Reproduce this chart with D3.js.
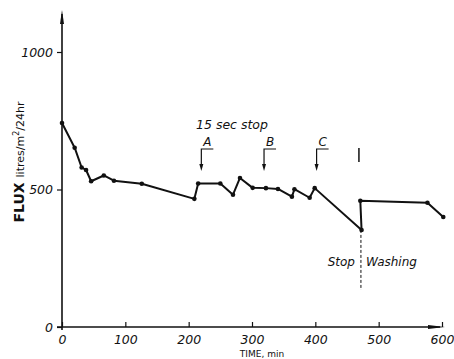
<!DOCTYPE html>
<html>
<head>
<meta charset="utf-8">
<script src="https://cdn.jsdelivr.net/npm/d3@7"></script>
<style>
  html, body { margin: 0; padding: 0; background: #fff; }
  svg { display: block; }
  text { font-family: "DejaVu Sans", sans-serif; fill: #111; }
</style>
</head>
<body>
<svg id="chart" width="454" height="359"></svg>
<script>
// Flux measurements over time (minutes, litres/m2/24hr)
const timeMin = [0, 20, 31, 38, 46, 66, 82, 126, 209, 215, 250, 270, 281, 301, 322, 341, 363, 367, 391, 399, 473, 471, 577, 602];
const fluxVal = [742, 652, 580, 571, 530, 551, 532, 521, 466, 522, 522, 481, 542, 506, 505, 502, 474, 501, 470, 505, 353, 459, 452, 400];

const xTicks = [0, 100, 200, 300, 400, 500, 600];
const yTicks = [0, 500, 1000];

// 15-second stop markers
const stopLabels = ["A", "B", "C"];
const stopTimes = [220, 319, 402];
const washTime = 472;

const svg = d3.select("#chart");
const x = d3.scaleLinear().domain([0, 600]).range([62, 442]);
const y = d3.scaleLinear().domain([0, 1000]).range([327, 52]);

const ink = "#111";

// Axes
const xAxis = d3.axisBottom(x).tickValues(xTicks).tickSize(-5).tickPadding(9).tickFormat(d3.format("d"));
const gx = svg.append("g").attr("transform", `translate(0,${y(0)})`).call(xAxis);
gx.select(".domain").remove();
gx.selectAll("line").attr("stroke", ink).attr("stroke-width", 1.2);
gx.selectAll("text").attr("font-size", 12.5).attr("font-style", "italic").attr("fill", ink).attr("dy", "0.6em");

const yAxis = d3.axisLeft(y).tickValues(yTicks).tickSize(5).tickPadding(4).tickFormat(d3.format("d"));
const gy = svg.append("g").attr("transform", `translate(${x(0)},0)`).call(yAxis);
gy.select(".domain").remove();
gy.selectAll("line").attr("stroke", ink).attr("stroke-width", 1.2);
gy.selectAll("text").attr("font-size", 12.5).attr("font-style", "italic").attr("fill", ink);

// Axis lines with arrowheads
svg.append("line").attr("x1", x(0)).attr("x2", x(0)).attr("y1", y(0) + 3).attr("y2", 14)
  .attr("stroke", ink).attr("stroke-width", 1.6);
svg.append("path").attr("d", `M${x(0) - 2},${24} L${x(0)},${10} L${x(0) + 2},${24} Z`).attr("fill", ink);
svg.append("line").attr("x1", x(0) - 5).attr("x2", 440).attr("y1", y(0)).attr("y2", y(0))
  .attr("stroke", ink).attr("stroke-width", 1.6);
svg.append("path").attr("d", `M${428},${y(0) - 2} L${445},${y(0)} L${428},${y(0) + 2} Z`).attr("fill", ink);

// Axis titles
svg.append("text").attr("x", 262).attr("y", 357).attr("text-anchor", "middle")
  .attr("font-size", 9).text("TIME, min");
const yt = svg.append("text").attr("transform", "translate(24,162) rotate(-90)").attr("text-anchor", "middle");
yt.append("tspan").attr("font-size", 14).attr("font-weight", "bold").text("FLUX ");
yt.append("tspan").attr("font-size", 11).text(" litres");
yt.append("tspan").attr("font-size", 11).text("/m");
yt.append("tspan").attr("font-size", 8).attr("dy", -5).text("2");
yt.append("tspan").attr("font-size", 11).attr("dy", 5).text("/24hr");

// Data line and points
const pts = timeMin.map((t, i) => [t, fluxVal[i]]);
svg.append("path").datum(pts)
  .attr("d", d3.line().x(d => x(d[0])).y(d => y(d[1])))
  .attr("fill", "none").attr("stroke", ink).attr("stroke-width", 2).attr("stroke-linejoin", "round");
svg.selectAll("circle.pt").data(pts).join("circle").attr("class", "pt")
  .attr("cx", d => x(d[0])).attr("cy", d => y(d[1])).attr("r", 2.3).attr("fill", ink);

// 15 sec stop annotations
svg.append("text").attr("x", 232).attr("y", 129).attr("text-anchor", "middle")
  .attr("font-size", 12.5).attr("font-style", "italic").text("15 sec  stop");
stopTimes.forEach((t, i) => {
  const px = x(t);
  const g = svg.append("g");
  g.append("text").attr("x", px + 6).attr("y", 146).attr("text-anchor", "middle")
    .attr("font-size", 12).attr("font-style", "italic").text(stopLabels[i]);
  g.append("path").attr("d", `M${px + 12},149 L${px},149 L${px},165`)
    .attr("fill", "none").attr("stroke", ink).attr("stroke-width", 1.2);
  g.append("path").attr("d", `M${px - 2},164 L${px},171 L${px + 2},164 Z`).attr("fill", ink);
});

// Stop / washing separator
const wx = x(washTime);
svg.append("line").attr("x1", wx - 2).attr("x2", wx - 2).attr("y1", 148).attr("y2", 162)
  .attr("stroke", ink).attr("stroke-width", 1.5);
svg.append("line").attr("x1", wx).attr("x2", wx).attr("y1", y(353)).attr("y2", 290)
  .attr("stroke", ink).attr("stroke-width", 1).attr("stroke-dasharray", "3,2");
svg.append("text").attr("x", wx - 6).attr("y", 266).attr("text-anchor", "end")
  .attr("font-size", 12).attr("font-style", "italic").text("Stop");
svg.append("text").attr("x", wx + 5).attr("y", 266)
  .attr("font-size", 12).attr("font-style", "italic").text("Washing");
</script>
</body>
</html>
